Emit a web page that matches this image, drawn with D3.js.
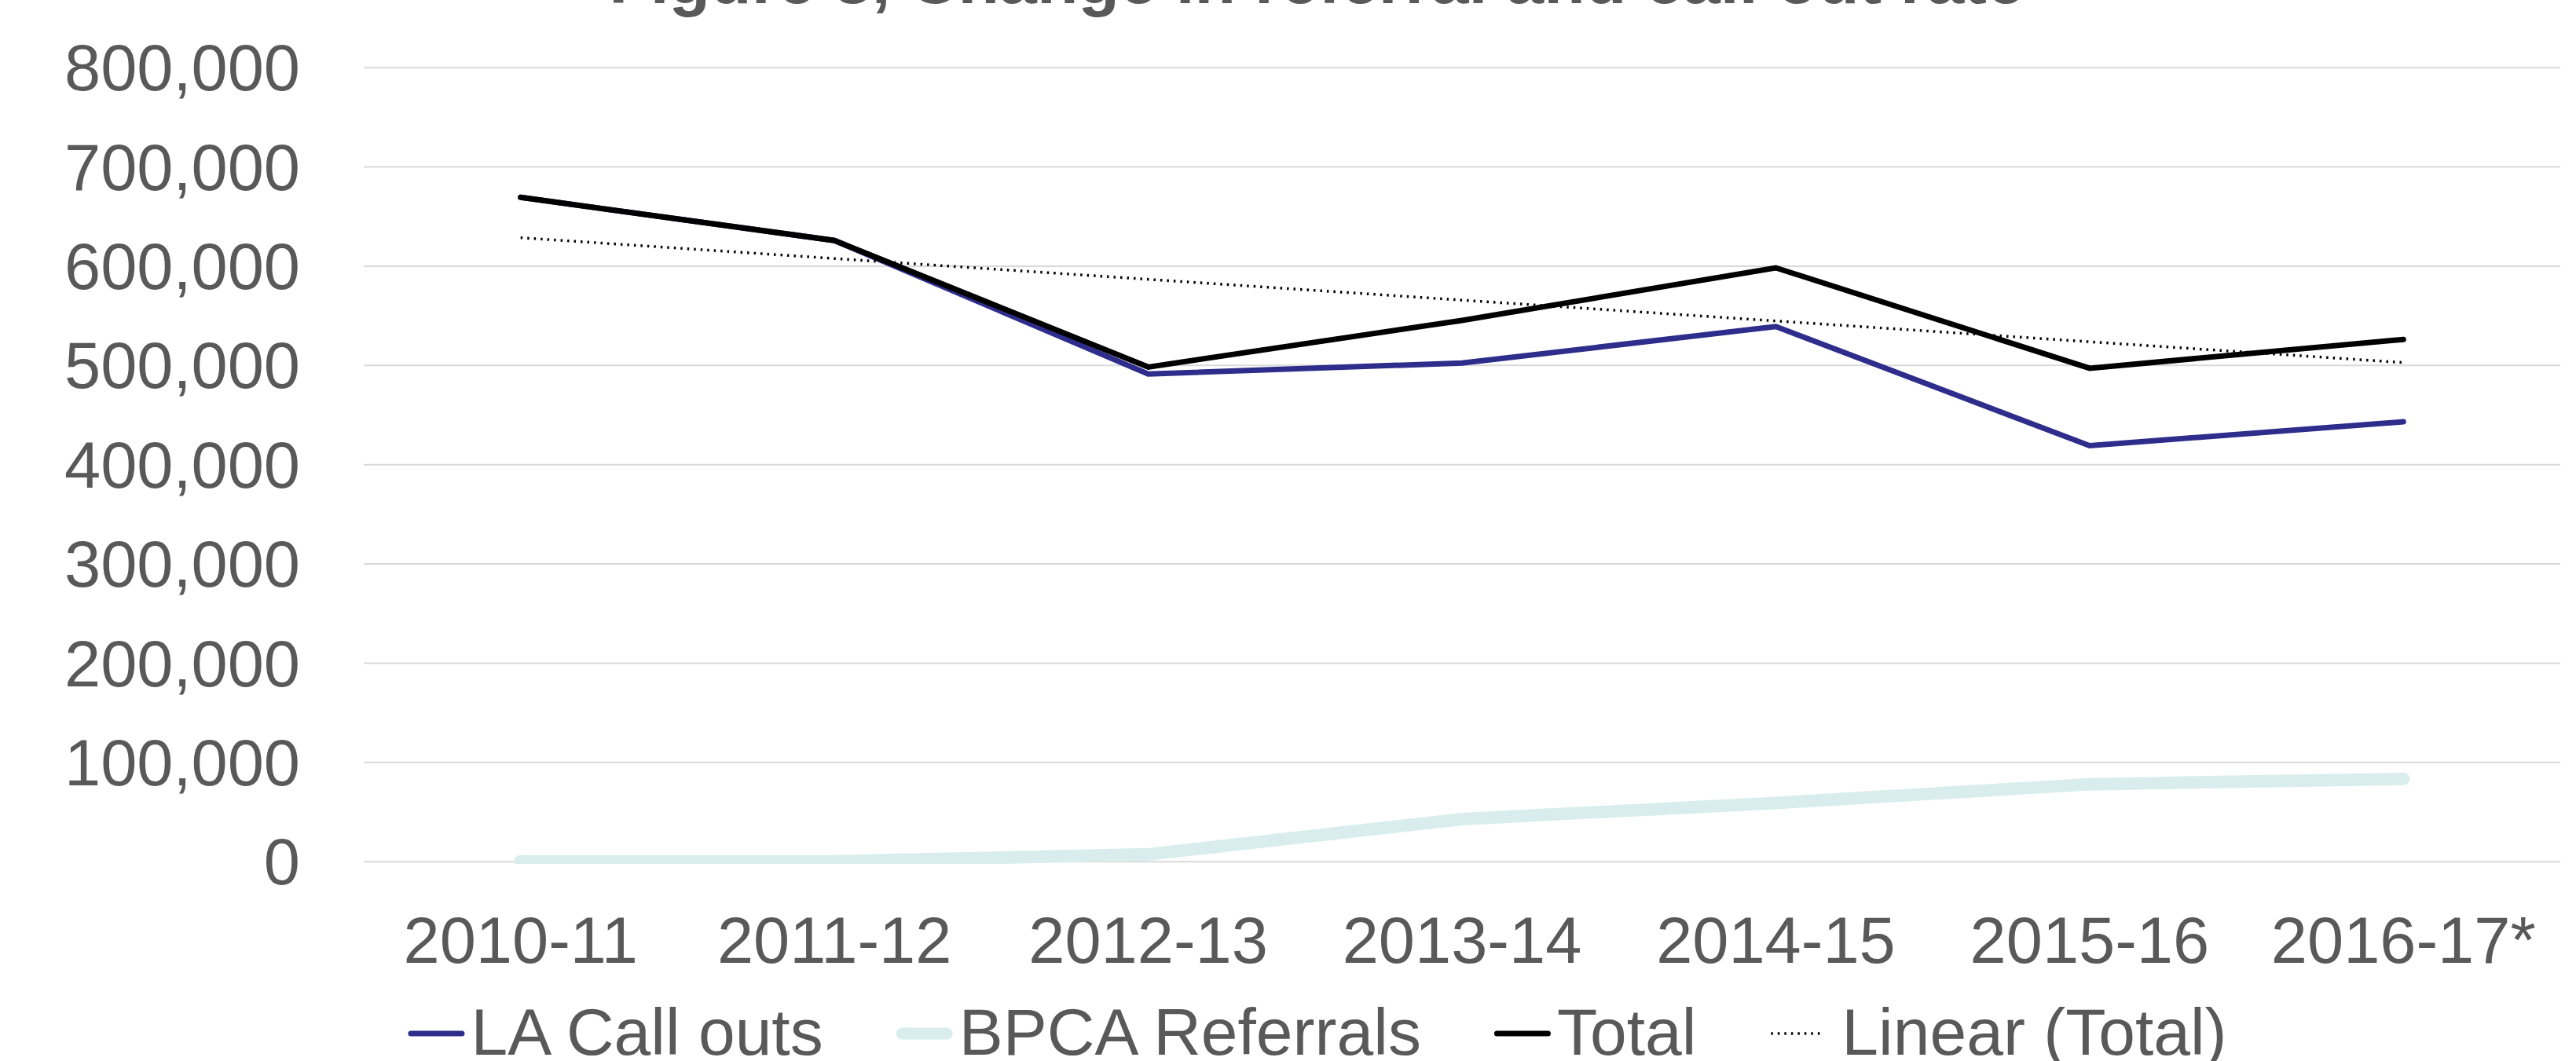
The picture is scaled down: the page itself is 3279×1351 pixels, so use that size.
<!DOCTYPE html>
<html>
<head>
<meta charset="utf-8">
<script src="https://cdn.jsdelivr.net/npm/d3@7"></script>
<style>
    body { margin: 0; background: #fff; }
    svg { display: block; font-family: "Liberation Sans", Arial, sans-serif; }
</style>
</head>
<body>
<div id="chart"></div>
<script>
// Data
const years = ["2010-11", "2011-12", "2012-13", "2013-14", "2014-15", "2015-16", "2016-17*"];
const laCallOuts = [669000, 625500, 491000, 502000, 538800, 418800, 442800];
const bpcaReferrals = [0, 0, 7000, 42500, 58800, 77600, 83000];
const total = [669000, 625500, 498000, 545000, 598000, 496800, 525800];
// linear trendline of Total, value at first and last category
const trendTotal = [628300, 502500];
const yTicks = [0, 100000, 200000, 300000, 400000, 500000, 600000, 700000, 800000];

const svgWidth = 3279;
const svgHeight = 1351;
const plot = { left: 463, right: 3259, top: 85.7, bottom: 1096.7 };
const textColor = "#595959";
const fontSize = 83;
const legendFontSize = 84;

const svg = d3.select("#chart").append("svg")
    .attr("width", svgWidth)
    .attr("height", svgHeight);

const xScale = d3.scaleBand().domain(years).range([plot.left, plot.right]).padding(0);
const yScale = d3.scaleLinear().domain([0, 800000]).range([plot.bottom, plot.top]);
const xc = d => xScale(d) + xScale.bandwidth() / 2;

// Title (cut off at the top in the original)
svg.append("text")
    .attr("x", 1676)
    .attr("y", 4)
    .attr("text-anchor", "middle")
    .style("font-size", "86px")
    .style("font-weight", "bold")
    .style("fill", textColor)
    .text("Figure 3, Change in referral and call out rate");

// Y axis with gridlines
const yAxis = svg.append("g")
    .attr("transform", `translate(${plot.left},0)`)
    .call(d3.axisLeft(yScale)
        .tickValues(yTicks)
        .tickSize(-(plot.right - plot.left))
        .tickPadding(81)
        .tickFormat(d3.format(",")));
yAxis.select(".domain").remove();
yAxis.selectAll(".tick line").attr("stroke", "#d9d9d9").attr("stroke-width", 2);
yAxis.selectAll(".tick text")
    .attr("dy", "0.35em")
    .style("font-size", fontSize + "px")
    .style("font-family", "'Liberation Sans', Arial, sans-serif")
    .style("fill", textColor);

// X axis labels
const xAxis = svg.append("g")
    .attr("transform", `translate(0,${plot.bottom})`)
    .call(d3.axisBottom(xScale).tickSize(0).tickPadding(70));
xAxis.select(".domain").remove();
xAxis.selectAll(".tick text")
    .style("font-size", fontSize + "px")
    .style("font-family", "'Liberation Sans', Arial, sans-serif")
    .style("fill", textColor);

// Clip to plot area
svg.append("clipPath").attr("id", "plot-clip")
    .append("rect")
    .attr("x", plot.left)
    .attr("y", 0)
    .attr("width", plot.right - plot.left)
    .attr("height", 1100);

const series = [
    { name: "LA Call outs", values: laCallOuts, color: "#2e2d8c", width: 7, legendWidth: 7 },
    { name: "BPCA Referrals", values: bpcaReferrals, color: "#daedee", width: 16, legendWidth: 15 },
    { name: "Total", values: total, color: "#000000", width: 7, legendWidth: 7 }
];

const line = d3.line()
    .x((d, i) => xc(years[i]))
    .y(d => yScale(d));

const g = svg.append("g").attr("clip-path", "url(#plot-clip)");

// draw BPCA first so the darker lines sit above it
[series[1], series[0], series[2]].forEach(s => {
    g.append("path")
        .datum(s.values)
        .attr("d", line)
        .attr("fill", "none")
        .attr("stroke", s.color)
        .attr("stroke-width", s.width)
        .attr("stroke-linecap", "round")
        .attr("stroke-linejoin", "miter");
});

// Linear (Total) trendline
g.append("line")
    .attr("x1", xc(years[0]))
    .attr("y1", yScale(trendTotal[0]))
    .attr("x2", xc(years[years.length - 1]))
    .attr("y2", yScale(trendTotal[1]))
    .attr("stroke", "#000")
    .attr("stroke-width", 3.5)
    .attr("stroke-dasharray", "2.5 6");

// Legend
const legendItems = series.map(s => ({ name: s.name, color: s.color, width: s.legendWidth, dash: null }))
    .concat([{ name: "Linear (Total)", color: "#000", width: 3.5, dash: "2.5 6" }]);

const legend = svg.append("g");
const markerLen = 72;
const markerGap = 8;
const itemGap = 93;
let cursor = 0;
legendItems.forEach(item => {
    const ig = legend.append("g").attr("transform", `translate(${cursor},0)`);
    ig.append("line")
        .attr("x1", item.dash ? 2 : item.width / 2)
        .attr("x2", item.dash ? markerLen - 6 : markerLen - item.width / 2)
        .attr("y1", 1316)
        .attr("y2", 1316)
        .attr("stroke", item.color)
        .attr("stroke-width", item.width)
        .attr("stroke-linecap", item.dash ? "butt" : "round")
        .attr("stroke-dasharray", item.dash);
    const t = ig.append("text")
        .attr("x", markerLen + markerGap + (item.dash ? 12 : 0))
        .attr("y", 1343)
        .style("font-size", legendFontSize + "px")
        .style("fill", textColor)
        .text(item.name);
    cursor += markerLen + markerGap + (item.dash ? 12 : 0) + t.node().getComputedTextLength() + itemGap;
});
const legendWidth = cursor - itemGap;
legend.attr("transform", `translate(${1677 - legendWidth / 2},0)`);
</script>
</body>
</html>
